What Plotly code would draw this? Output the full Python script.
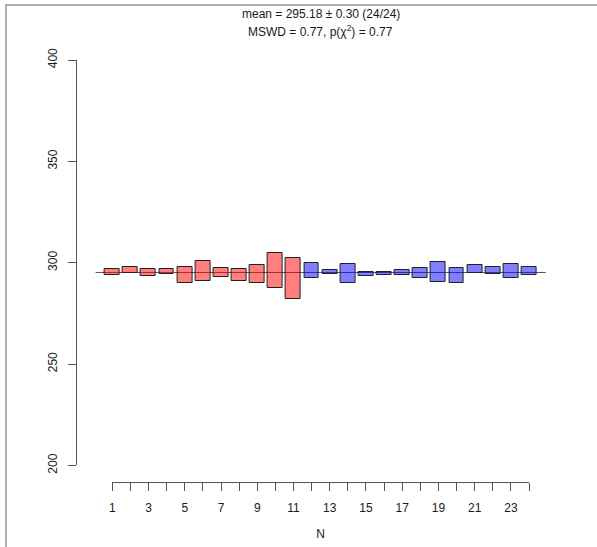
import plotly.graph_objects as go

# Weighted-mean plot: one box per aliquot (centre +/- error), two groups
N = list(range(1, 25))
centre = [295.4, 296.4, 295.2, 295.6, 294.05, 296.0, 295.0, 293.9, 294.5, 296.3,
          292.2, 296.15, 295.35, 294.5, 294.6, 294.75, 295.2, 294.8, 295.25, 293.6,
          296.75, 296.15, 295.9, 295.9]
halfwidth = [1.33, 1.5, 1.6, 1.3, 3.95, 4.9, 2.2, 2.8, 4.5, 8.6,
             10.0, 3.55, 1.05, 4.7, 1.0, 0.65, 1.1, 2.4, 4.95, 3.6,
             1.95, 1.55, 3.3, 2.1]
group = [0] * 11 + [1] * 13
mean_value = 295.18
mean_err = 0.30
mswd = 0.77
p_chi2 = 0.77
y_ticks = [200, 250, 300, 350, 400]
x_tick_labels = [str(n) if n % 2 == 1 else "" for n in N]

W, H = 597, 547
group_fill = ["rgba(255,0,0,0.5)", "rgba(0,0,255,0.5)"]


def px_x(p):
    return p / W


def px_y(p):
    return 1 - p / H


font = dict(family="Liberation Sans, Arial, sans-serif", size=12, color="#1a1a1a")

fig = go.Figure()

fig.add_trace(go.Bar(
    x=N,
    base=[c - h for c, h in zip(centre, halfwidth)],
    y=[2 * h for h in halfwidth],
    width=0.82,
    marker=dict(color=[group_fill[g] for g in group],
                line=dict(color="#222222", width=1)),
    hoverinfo="skip",
    showlegend=False,
))

# carrier trace for the visible N axis
fig.add_trace(go.Scatter(
    x=N, y=centre, xaxis="x2", yaxis="y", mode="markers",
    marker=dict(opacity=0), hoverinfo="skip", showlegend=False,
))

# carrier trace for the page-frame axes
fig.add_trace(go.Scatter(
    x=[0.5], y=[0.5], xaxis="x3", yaxis="y3", mode="markers",
    marker=dict(opacity=0), hoverinfo="skip", showlegend=False,
))

frame_axis = dict(
    range=[0, 1], showline=True, linecolor="#b0b0b0", linewidth=2,
    showticklabels=False, ticks="", showgrid=False, zeroline=False,
    automargin=False, fixedrange=True, anchor="free",
)

fig.update_layout(
    width=W, height=H,
    margin=dict(l=0, r=0, t=0, b=0, autoexpand=False),
    paper_bgcolor="white",
    plot_bgcolor="rgba(0,0,0,0)",
    font=font,
    bargap=0,
    xaxis=dict(
        domain=[px_x(95.6), px_x(545.7)],
        range=[0.08, 24.92],
        visible=False,
        automargin=False,
        fixedrange=True,
    ),
    xaxis2=dict(
        domain=[px_x(112.3), px_x(529.0)],
        range=[1, 24],
        anchor="free",
        position=px_y(481.7),
        tickmode="array",
        tickvals=N,
        ticktext=x_tick_labels,
        ticks="outside",
        ticklen=8,
        tickwidth=1,
        tickcolor="#555555",
        showline=True,
        linecolor="#555555",
        linewidth=1,
        showgrid=False,
        zeroline=False,
        ticklabelstandoff=7,
        automargin=False,
        title=dict(text="N", font=font, standoff=15),
        fixedrange=True,
    ),
    yaxis=dict(
        domain=[px_y(465.4), px_y(60.0)],
        range=[200, 400],
        anchor="free",
        position=px_x(76.0),
        tickmode="array",
        tickvals=y_ticks,
        ticks="outside",
        ticklen=8,
        tickwidth=1,
        tickcolor="#555555",
        tickangle=-90,
        showline=True,
        linecolor="#555555",
        linewidth=1,
        showgrid=False,
        zeroline=False,
        ticklabelstandoff=6,
        automargin=False,
        fixedrange=True,
    ),
    # page frame: top and left edges
    xaxis3=dict(frame_axis, domain=[px_x(5), 1], position=px_y(5), side="top"),
    yaxis3=dict(frame_axis, domain=[0, px_y(4)], position=px_x(6)),
    annotations=[
        dict(text=f"mean = {mean_value:.2f} \u00b1 {mean_err:.2f} (24/24)",
             xref="paper", yref="paper", x=px_x(320.6), y=px_y(14),
             xanchor="center", yanchor="middle", showarrow=False, font=font),
        dict(text=f"MSWD = {mswd:.2f}, p(\u03c7<sup>2</sup>) = {p_chi2:.2f}",
             xref="paper", yref="paper", x=px_x(320.6), y=px_y(31),
             xanchor="center", yanchor="middle", showarrow=False, font=font),
    ],
)

# weighted mean
fig.add_hline(y=mean_value, line_color="#555555", line_width=1, layer="below")

fig.write_html("out.html")
